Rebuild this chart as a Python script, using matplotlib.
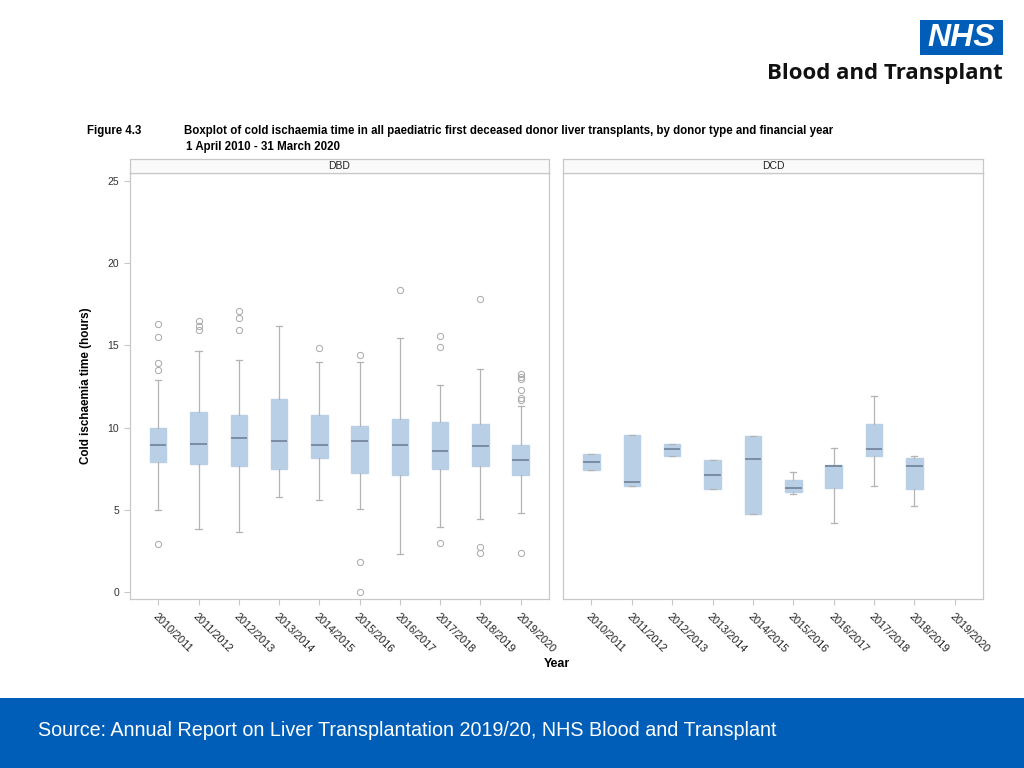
import matplotlib.pyplot as plt
from matplotlib.patches import Rectangle


# ==========================================
# DATA
# ==========================================

years = ["2010/2011", "2011/2012", "2012/2013", "2013/2014", "2014/2015",
         "2015/2016", "2016/2017", "2017/2018", "2018/2019", "2019/2020"]

# DBD donors
dbd_q1 = [7.89, 7.81, 7.65, 7.46, 8.17, 7.22, 7.14, 7.46, 7.65, 7.14]
dbd_med = [8.95, 9.03, 9.35, 9.17, 8.95, 9.17, 8.95, 8.56, 8.86, 8.03]
dbd_q3 = [10.0, 10.96, 10.75, 11.73, 10.75, 10.08, 10.51, 10.33, 10.22, 8.95]
dbd_lo = [4.97, 3.81, 3.63, 5.80, 5.58, 5.03, 2.31, 3.94, 4.42, 4.79]
dbd_hi = [12.9, 14.65, 14.13, 16.18, 13.98, 13.98, 15.45, 12.58, 13.56, 11.3]
dbd_out = [
    [16.3, 15.5, 13.9, 13.5, 2.9],
    [16.5, 16.2, 15.96],
    [17.07, 16.65, 15.96],
    [],
    [14.82],
    [14.43, 1.83, 0.0],
    [18.39],
    [15.57, 14.88, 2.96],
    [17.85, 2.72, 2.35],
    [13.25, 13.05, 12.93, 12.26, 11.83, 11.69, 2.37],
]

# DCD donors (None = no transplants that year)
dcd_q1 = [7.40, 6.43, 8.30, 6.25, 4.73, 6.09, 6.31, 8.28, 6.25, None]
dcd_med = [7.89, 6.67, 8.70, 7.14, 8.07, 6.33, 7.65, 8.68, 7.65, None]
dcd_q3 = [8.38, 9.57, 9.03, 8.01, 9.51, 6.82, 7.71, 10.22, 8.13, None]
dcd_lo = [7.40, 6.43, 8.30, 6.25, 4.73, 5.94, 4.18, 6.43, 5.21, None]
dcd_hi = [8.38, 9.57, 9.03, 8.01, 9.51, 7.30, 8.74, 11.91, 8.28, None]


# ==========================================
# Style
# ==========================================

plt.rcParams["font.family"] = ["Liberation Sans", "DejaVu Sans"]

BOX_FILL = "#b9cfe6"
BOX_EDGE = "#b9cfe6"
MEDIAN = "#6f8196"
WHISKER = "#b4b4b4"
FRAME = "#c8c8c8"
NHS_BLUE = "#005eb8"


def make_stats(q1, med, q3, lo, hi, out=None):
    stats = []
    positions = []
    for i in range(len(q1)):
        if q1[i] is None:
            continue
        stats.append({
            "q1": q1[i], "med": med[i], "q3": q3[i],
            "whislo": lo[i], "whishi": hi[i],
            "fliers": out[i] if out else [],
        })
        positions.append(i)
    return stats, positions


def draw_panel(ax, stats, positions, title, show_y):
    ax.bxp(
        stats,
        positions=positions,
        widths=0.41,
        patch_artist=True,
        showfliers=True,
        boxprops=dict(facecolor=BOX_FILL, edgecolor=BOX_EDGE, linewidth=1),
        medianprops=dict(color=MEDIAN, linewidth=1.2),
        whiskerprops=dict(color=WHISKER, linewidth=0.9),
        capprops=dict(color=WHISKER, linewidth=0.9),
        capwidths=0.15,
        flierprops=dict(marker="o", markersize=4.5, markerfacecolor="none",
                        markeredgecolor="#a8a8a8", markeredgewidth=0.7),
    )

    ax.set_xlim(-0.7, 9.7)
    ax.set_ylim(-0.43, 25.5)
    ax.set_xticks(range(len(years)))
    ax.set_xticklabels(years, rotation=-45, ha="left", va="top",
                       rotation_mode="anchor", fontsize=7.8, color="#222222")
    ax.set_yticks([0, 5, 10, 15, 20, 25])

    for s in ax.spines.values():
        s.set_color(FRAME)
        s.set_linewidth(0.9)

    ax.tick_params(axis="x", length=4, color=FRAME, pad=5)

    if show_y:
        ax.tick_params(axis="y", length=4, color=FRAME, pad=4,
                       labelsize=7.5, labelcolor="#333333")
    else:
        ax.tick_params(axis="y", left=False, labelleft=False)

    # header strip
    pos = ax.get_position()
    strip = fig.add_axes([pos.x0, pos.y1, pos.width, 14 / 768])
    strip.set_xticks([])
    strip.set_yticks([])
    strip.set_facecolor("#fafafa")
    for s in strip.spines.values():
        s.set_color(FRAME)
        s.set_linewidth(0.9)
    strip.text(0.5, 0.5, title, ha="center", va="center",
               fontsize=7.5, color="#222222")


# ==========================================
# Plot
# ==========================================

fig = plt.figure(figsize=(10.24, 7.68), dpi=100)
fig.patch.set_facecolor("white")

ax_dbd = fig.add_axes([0.127, 0.220, 0.409, 0.555])
ax_dcd = fig.add_axes([0.550, 0.220, 0.410, 0.555])

s1, p1 = make_stats(dbd_q1, dbd_med, dbd_q3, dbd_lo, dbd_hi, dbd_out)
s2, p2 = make_stats(dcd_q1, dcd_med, dcd_q3, dcd_lo, dcd_hi)

draw_panel(ax_dbd, s1, p1, "DBD", True)
draw_panel(ax_dcd, s2, p2, "DCD", False)

ax_dbd.set_ylabel("Cold ischaemia time (hours)", fontsize=8.4,
                  fontweight="bold")
ax_dbd.yaxis.set_label_coords(-0.09, 0.5)

fig.text(557 / 1024, 1 - 664 / 768, "Year", ha="center", va="center",
         fontsize=9, fontweight="bold")


# titles
fig.text(87 / 1024, 1 - 131 / 768, "Figure 4.3",
         fontsize=8.3, fontweight="bold", va="center")
fig.text(184 / 1024, 1 - 131 / 768,
         "Boxplot of cold ischaemia time in all paediatric first deceased "
         "donor liver transplants, by donor type and financial year",
         fontsize=8.3, fontweight="bold", va="center")
fig.text(186 / 1024, 1 - 147 / 768, "1 April 2010 - 31 March 2020",
         fontsize=8.3, fontweight="bold", va="center")


# NHS logo
fig.patches.append(Rectangle((920 / 1024, 1 - 55 / 768), 83 / 1024, 35 / 768,
                             transform=fig.transFigure, facecolor=NHS_BLUE,
                             edgecolor="none"))
fig.text(961 / 1024, 1 - 38 / 768, "NHS", ha="center", va="center",
         color="white", fontsize=23, fontweight="bold", style="italic")
fig.text(1003 / 1024, 1 - 74 / 768, "Blood and Transplant", ha="right",
         va="center", fontsize=16, fontweight="bold", family="Open Sans",
         color="#111111")


# footer band
fig.patches.append(Rectangle((0, 0), 1, 70 / 768, transform=fig.transFigure,
                             facecolor=NHS_BLUE, edgecolor="none"))
fig.text(38 / 1024, 1 - 731 / 768,
         "Source: Annual Report on Liver Transplantation 2019/20, "
         "NHS Blood and Transplant",
         color="white", fontsize=14.2, va="center")


plt.savefig("out.png", dpi=100)
plt.close()
